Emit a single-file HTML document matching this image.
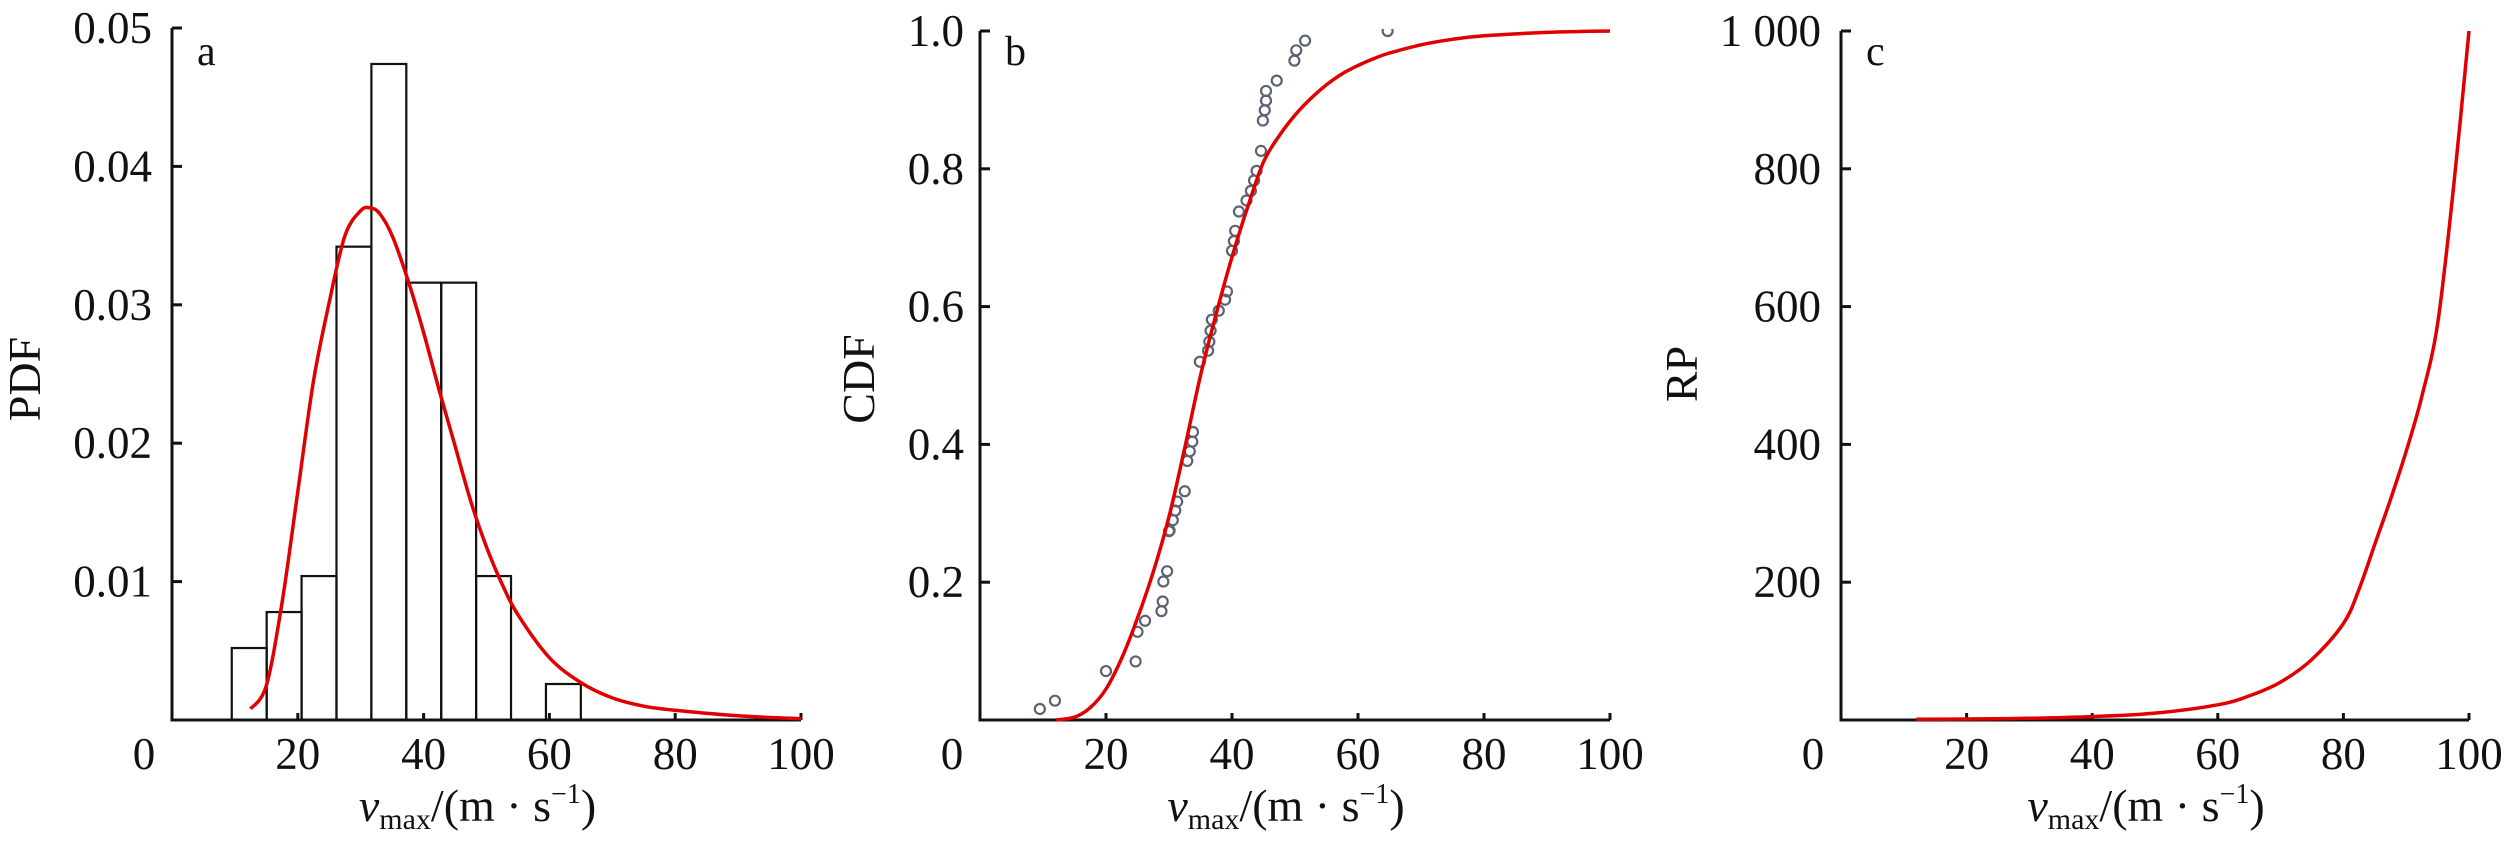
<!DOCTYPE html>
<html><head><meta charset="utf-8"><style>
html,body{margin:0;padding:0;background:#fff;}
svg{display:block;}
text{font-family:"Liberation Serif",serif;fill:#111;}
</style></head><body>
<svg id="fig" width="2520" height="850" viewBox="0 0 2520 850" xmlns="http://www.w3.org/2000/svg">
<defs>
<clipPath id="clipB"><rect x="960" y="29" width="680" height="700"/></clipPath>
</defs>
</svg>
<script>
// ---- Panel a data ----
const histEdges = [9.5, 15.05, 20.6, 26.15, 31.7, 37.25, 42.8, 48.35, 53.9, 59.45, 65.0];
const histHeights = [0.0052, 0.0078, 0.0104, 0.0342, 0.0474, 0.0316, 0.0316, 0.0104, 0, 0.0026];
const pdfX = [12.5, 15, 17.5, 20, 22.5, 25, 27.5, 30, 31.5, 33, 35, 37.5, 40, 42.5, 45, 47.5, 50, 52.5, 55, 60, 65, 70, 75, 80, 90, 100];
const pdfY = [0.0008, 0.0025, 0.0085, 0.0165, 0.0245, 0.0302, 0.035, 0.0368, 0.037, 0.0366, 0.035, 0.0318, 0.028, 0.0238, 0.0198, 0.0158, 0.0125, 0.0098, 0.0076, 0.0045, 0.0027, 0.0016, 0.001, 0.0007, 0.0003, 0.0001];
const aYTicks = [0.01, 0.02, 0.03, 0.04, 0.05];
const aYLabels = ["0.01", "0.02", "0.03", "0.04", "0.05"];
// ---- Panel b data ----
const obsX = [9.5,11.9,20.0,24.7,25.0,26.2,28.8,29.0,29.1,29.7,30.0,30.1,30.6,31.0,31.3,32.5,32.9,33.3,33.7,33.8,34.9,36.2,36.4,36.6,36.8,37.9,38.9,39.2,40.0,40.3,40.5,41.1,42.3,43.0,43.5,43.9,44.6,44.9,45.2,45.4,45.4,47.1,49.9,50.2,51.6,64.7];
const obsY = [0.016,0.028,0.071,0.085,0.128,0.144,0.158,0.172,0.201,0.216,0.274,0.275,0.290,0.304,0.317,0.332,0.376,0.390,0.404,0.418,0.520,0.536,0.549,0.565,0.581,0.594,0.610,0.622,0.681,0.695,0.710,0.738,0.754,0.768,0.783,0.797,0.826,0.870,0.885,0.899,0.913,0.928,0.957,0.972,0.986,1.0];
const cdfX = [12, 15, 17.5, 20, 22.5, 25, 27.5, 30, 32.5, 35, 37.5, 40, 42.5, 45, 47.5, 50, 52.5, 55, 57.5, 60, 62.5, 65, 70, 75, 80, 90, 100];
const cdfY = [0, 0.004, 0.018, 0.045, 0.09, 0.148, 0.215, 0.295, 0.395, 0.5, 0.59, 0.672, 0.745, 0.81, 0.848, 0.878, 0.902, 0.922, 0.938, 0.95, 0.96, 0.968, 0.98, 0.988, 0.993, 0.998, 1.0];
const bYTicks = [0.2, 0.4, 0.6, 0.8, 1.0];
const bYLabels = ["0.2", "0.4", "0.6", "0.8", "1.0"];
// ---- Panel c data ----
const rpX = [12, 20, 30, 40, 50, 60, 65, 70, 75, 80, 82.5, 85, 87.5, 90, 92.5, 95, 97.5, 100];
const rpY = [1, 1.5, 2.5, 5, 10, 22, 35, 55, 88, 140, 190, 255, 320, 390, 470, 575, 770, 1000];
const cYTicks = [200, 400, 600, 800, 1000];
const cYLabels = ["200", "400", "600", "800", "1 000"];
const xTicks = [0, 20, 40, 60, 80, 100];
const xLabels = ["0", "20", "40", "60", "80", "100"];

const NS = "http://www.w3.org/2000/svg";
const svg = document.getElementById("fig");
function mk(tag, attrs, parent) {
  const e = document.createElementNS(NS, tag);
  for (const k in attrs) e.setAttribute(k, attrs[k]);
  (parent || svg).appendChild(e);
  return e;
}
function smoothPath(pts) {
  let d = "M" + pts[0][0].toFixed(1) + "," + pts[0][1].toFixed(1);
  for (let i = 0; i < pts.length - 1; i++) {
    const p0 = pts[i - 1] || pts[i], p1 = pts[i], p2 = pts[i + 1], p3 = pts[i + 2] || p2;
    const c1x = p1[0] + (p2[0] - p0[0]) / 6, c1y = p1[1] + (p2[1] - p0[1]) / 6;
    const c2x = p2[0] - (p3[0] - p1[0]) / 6, c2y = p2[1] - (p3[1] - p1[1]) / 6;
    d += " C" + c1x.toFixed(1) + "," + c1y.toFixed(1) + " " + c2x.toFixed(1) + "," + c2y.toFixed(1) + " " + p2[0].toFixed(1) + "," + p2[1].toFixed(1);
  }
  return d;
}

function panel(cfg) {
  const g = mk("g", {});
  
  
  const sx = v => cfg.x0 + (v / 100) * (cfg.x1 - cfg.x0);
  const sy = v => cfg.y0 - (v / cfg.ymax) * (cfg.y0 - cfg.y1);
  cfg.sx = sx; cfg.sy = sy; cfg.g = g;
  const ax = mk("path", {d: "M" + cfg.x0 + "," + cfg.y1 + " V" + cfg.y0 + " H" + cfg.x1, fill: "none", stroke: "#111", "stroke-width": 3}, g);
  
  
  xTicks.forEach((t, i) => {
    const x = sx(t);
    if (t > 0) {
      const tk = mk("line", {x1: x, x2: x, y1: cfg.y0, y2: cfg.y0 - 7, stroke: "#111", "stroke-width": 3}, g);
      
      
    }
    const lx = t === 0 ? cfg.x0 - 28 : x;
    const tl = mk("text", {x: lx, y: 769, "font-size": 45, "text-anchor": "middle"}, g);
    tl.textContent = xLabels[i];
    
    
  });
  cfg.yTicks.forEach((t, i) => {
    const y = sy(t);
    const tk = mk("line", {x1: cfg.x0, x2: cfg.x0 + 10, y1: y, y2: y, stroke: "#111", "stroke-width": 3}, g);
    
    
    const tl = mk("text", {x: cfg.x0 - cfg.lblOff, y: y + 15, "font-size": 45, "text-anchor": "end"}, g);
    tl.textContent = cfg.yLabels[i];
    
    
  });
  const yt = mk("text", {x: 0, y: 0, "font-size": 46, "text-anchor": "middle", transform: "translate(" + (cfg.x0 - cfg.ytOff) + "," + cfg.ytY + ") rotate(-90)"}, g);
  yt.textContent = cfg.ytitle;
  
  
  const xt = mk("text", {x: (cfg.x0 + cfg.x1) / 2 - 9, y: 821, "font-size": 46, "text-anchor": "middle"}, g);
  
  
  xt.innerHTML = '<tspan font-style="italic">v</tspan><tspan font-size="30" dy="8">max</tspan><tspan dy="-8">/(m · s</tspan><tspan font-size="28" dy="-18">−1</tspan><tspan dy="18">)</tspan>';
  const lt = mk("text", {x: cfg.x0 + 25, y: 65, "font-size": 42}, g);
  lt.textContent = cfg.letter;
  
  
  return cfg;
}

// Panel a
const A = panel({name: "panel-a-pdf", x0: 172, x1: 801, y0: 720, y1: 28, ymax: 0.05, yTicks: aYTicks, yLabels: aYLabels, lblOff: 20, ytitle: "PDF", ytOff: 132, ytY: 379, letter: "a"});
histHeights.forEach((h, i) => {
  if (h <= 0) return;
  const x = A.sx(histEdges[i]), w = A.sx(histEdges[i + 1]) - x;
  const r = mk("rect", {x: x, y: A.sy(h), width: w, height: A.sy(0) - A.sy(h), fill: "none", stroke: "#111", "stroke-width": 2.2}, A.g);
  
  
});
const pa = mk("path", {d: smoothPath(pdfX.map((x, i) => [A.sx(x), A.sy(pdfY[i])])), fill: "none", stroke: "#e00000", "stroke-width": 3.5}, A.g);



// Panel b
const B = panel({name: "panel-b-cdf", x0: 980, x1: 1610, y0: 720, y1: 31, ymax: 1.0, yTicks: bYTicks, yLabels: bYLabels, lblOff: 16, ytitle: "CDF", ytOff: 106, ytY: 379, letter: "b"});
const pts = mk("g", {"clip-path": "url(#clipB)"}, B.g);


obsX.forEach((x, i) => {
  const c = mk("circle", {cx: B.sx(x), cy: B.sy(obsY[i]), r: 5, fill: "none", stroke: "#5b6272", "stroke-width": 2.2}, pts);
  
  
});
const pb = mk("path", {d: smoothPath(cdfX.map((x, i) => [B.sx(x), B.sy(cdfY[i])])), fill: "none", stroke: "#e00000", "stroke-width": 3.5}, B.g);



// Panel c
const C = panel({name: "panel-c-return-period", x0: 1841, x1: 2469, y0: 720, y1: 31, ymax: 1000, yTicks: cYTicks, yLabels: cYLabels, lblOff: 20, ytitle: "RP", ytOff: 144, ytY: 374, letter: "c"});
const pc = mk("path", {d: smoothPath(rpX.map((x, i) => [C.sx(x), C.sy(rpY[i])])), fill: "none", stroke: "#e00000", "stroke-width": 3.5}, C.g);


</script>
</body></html>
